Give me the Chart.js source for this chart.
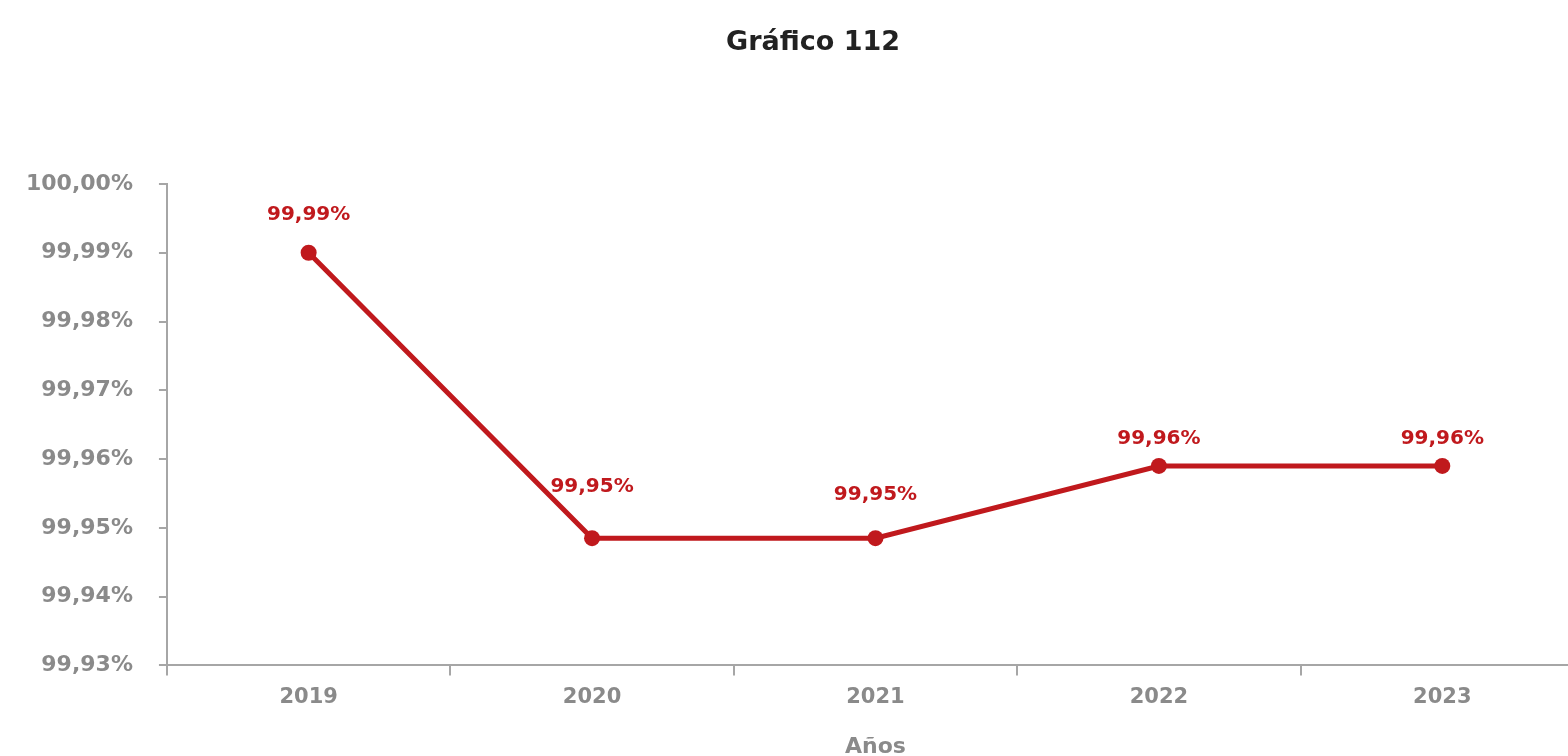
<!DOCTYPE html>
<html><head><meta charset="utf-8">
<script src="https://cdn.jsdelivr.net/npm/chart.js@4/dist/chart.umd.min.js"></script>
<style>
html,body{margin:0;padding:0;background:#fff;overflow:hidden;width:1568px;height:756px;}
#wrap{position:absolute;left:0;top:0;width:1626px;height:764px;}
</style></head>
<body>
<div id="wrap"><canvas id="c"></canvas></div>
<script>
const chartTitle = 'Gráfico 112';
const xTitle = 'Años';
const categories = ['2019', '2020', '2021', '2022', '2023'];
const values = [99.99, 99.9485, 99.9485, 99.959, 99.959];
const yMin = 99.93, yMax = 100.00, yStep = 0.01;
const labelLift = [38, 51, 43, 27, 27];

const RED = '#c0191d';
const GRAY = '#8a8a8a';
const AXIS = '#a6a6a6';
const FONT = "'DejaVu Sans', sans-serif";
const fmt = v => Number(v).toFixed(2).replace('.', ',') + '%';

const valueLabels = {
  id: 'valueLabels',
  afterDatasetsDraw(chart) {
    const ctx = chart.ctx;
    const meta = chart.getDatasetMeta(0);
    ctx.save();
    ctx.font = `bold 20px ${FONT}`;
    ctx.fillStyle = RED;
    ctx.textAlign = 'center';
    ctx.textBaseline = 'middle';
    meta.data.forEach((pt, i) => {
      ctx.fillText(fmt(values[i]), pt.x, pt.y - labelLift[i]);
    });
    ctx.restore();
  }
};

const titleDraw = {
  id: 'titleDraw',
  afterDraw(chart) {
    const ctx = chart.ctx;
    ctx.save();
    ctx.font = `bold 27px ${FONT}`;
    ctx.fillStyle = '#222';
    ctx.textAlign = 'center';
    ctx.textBaseline = 'middle';
    ctx.fillText(chartTitle, chart.width / 2, 43);
    ctx.restore();
  }
};

new Chart(document.getElementById('c'), {
  type: 'line',
  data: {
    labels: categories,
    datasets: [{
      data: values,
      borderColor: RED,
      backgroundColor: RED,
      borderWidth: 5,
      pointRadius: 8,
      pointHoverRadius: 8,
      pointBackgroundColor: RED,
      pointBorderWidth: 0,
      tension: 0
    }]
  },
  options: {
    responsive: true,
    maintainAspectRatio: false,
    animation: false,
    layout: { padding: { left: 0, right: 42, top: 184, bottom: 0 } },
    plugins: {
      legend: { display: false },
      tooltip: { enabled: false },
      title: { display: false }
    },
    scales: {
      x: {
        type: 'category',
        offset: true,
        border: { display: true, color: AXIS, width: 2 },
        grid: { display: true, offset: true, drawOnChartArea: false, drawTicks: true, tickLength: 10, color: AXIS, lineWidth: 2 },
        ticks: { color: GRAY, font: { family: FONT, size: 21, weight: 'bold' }, padding: 10 },
        title: { display: true, text: xTitle, color: GRAY, font: { family: FONT, size: 22, weight: 'bold' }, padding: { top: 13 } }
      },
      y: {
        min: yMin, max: yMax,
        border: { display: true, color: AXIS, width: 2 },
        grid: { display: true, drawOnChartArea: false, drawTicks: true, tickLength: 8, color: AXIS, lineWidth: 2 },
        ticks: {
          stepSize: yStep,
          color: GRAY,
          font: { family: FONT, size: 22, weight: 'bold' },
          padding: 26,
          callback: v => fmt(v)
        }
      }
    }
  },
  plugins: [valueLabels, titleDraw]
});
</script>
</body></html>
